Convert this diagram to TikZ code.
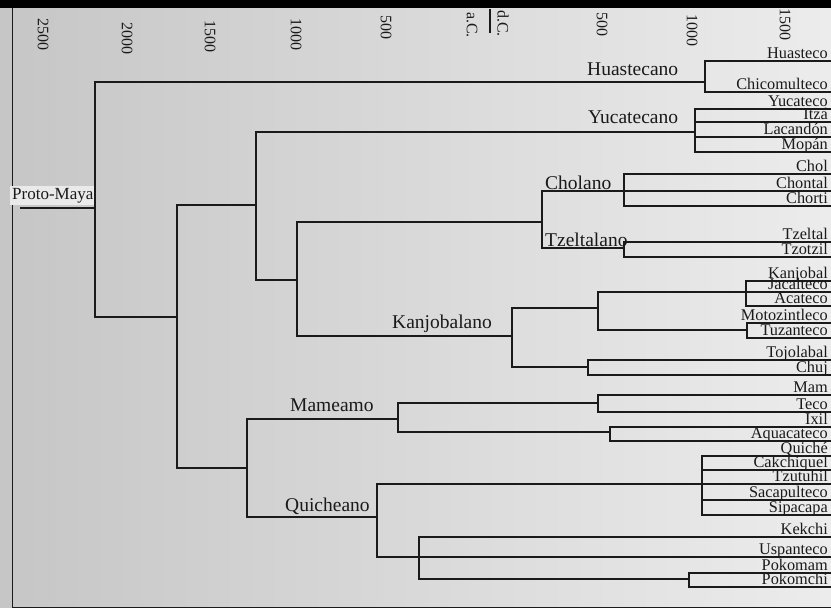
\documentclass[tikz,border=0pt]{standalone}
\usepackage{fontspec}
\setmainfont{Liberation Serif}
\definecolor{ink}{HTML}{1A1A1A}
\definecolor{paperleft}{HTML}{C6C6C6}
\definecolor{papermid}{HTML}{F7F7F7}
\definecolor{paperright}{HTML}{ECECEC}
\definecolor{labelbg}{HTML}{EAEAEA}
\begin{document}
\begin{tikzpicture}
	[x=1pt, y=-1pt,
	branch/.style={draw=ink, line width=1.4pt},
	leaf/.style={anchor=base east, inner sep=0pt, yshift=3pt, text=ink,
		font=\fontsize{16.3}{17}\selectfont},
	group/.style={anchor=base west, inner sep=0pt, text=ink,
		font=\fontsize{19.5}{20}\selectfont},
	axis/.style={rotate=-90, anchor=west, inner sep=0pt, text=ink,
		font=\fontsize{16}{16}\selectfont}]
	\useasboundingbox (0,0) rectangle (831,608);
	\shade[left color=paperleft, middle color=papermid, right color=paperright] (0,0) rectangle (831,608);
	\fill[black] (0,0) rectangle (831,8);
	\draw[ink, line width=1pt] (12,8) -- (12,607) -- (831,607);
	\foreach \x/\y/\t in {43/18/2500, 127/22/2000, 210/20/1500, 296/18/1000, 386/15/500,
		472/12/a.C., 503/10/d.C., 602/12/500, 692/14/1000, 785/8/1500}
		\node[axis] (tick\x) at (\x,\y) {\t};
	\draw[ink, line width=1.2pt] (490,9) -- (490,33);
	\node[anchor=base west, fill=labelbg, inner sep=2pt, text=ink,
		font=\fontsize{17}{17}\selectfont] (protomaya) at (10,199) {Proto-Maya};
	\coordinate (root) at (20,208);
	\coordinate (bmaya) at (95,208);
	\coordinate (bhuas) at (705,82);
	\coordinate (bcore) at (177,317);
	\coordinate (bwest) at (256,205);
	\coordinate (byuca) at (695,132);
	\coordinate (bck) at (297,280);
	\coordinate (btzch) at (542,222);
	\coordinate (bchol) at (624,191);
	\coordinate (btzel) at (624,248);
	\coordinate (bkanj) at (512,336);
	\coordinate (bkgrp) at (598,308);
	\coordinate (bkaja) at (746,292);
	\coordinate (bmoto) at (747,330);
	\coordinate (btojo) at (588,367);
	\coordinate (bsouth) at (247,468);
	\coordinate (bmame) at (398,419);
	\coordinate (bmate) at (598,403);
	\coordinate (bixaq) at (610,432);
	\coordinate (bquic) at (377,517);
	\coordinate (bquig) at (702,484);
	\coordinate (bkekg) at (419,557);
	\coordinate (bpokg) at (689,579);
	\foreach \n/\y/\t in {huasteco/61/Huasteco, chicomulteco/92/Chicomulteco,
		yucateco/109/Yucateco, itza/122/Itzá, lacandon/137/Lacandón, mopan/152/Mopán,
		chol/174/Chol, chontal/191/Chontal, chorti/206/Chorti,
		tzeltal/242/Tzeltal, tzotzil/257/Tzotzil,
		kanjobal/281/Kanjobal, jacalteco/292/Jacalteco, acateco/306/Acateco,
		motozintleco/323/Motozintleco, tuzanteco/338/Tuzanteco,
		tojolabal/360/Tojolabal, chuj/375/Chuj,
		mam/395/Mam, teco/412/Teco, ixil/427/Ixil, aquacateco/441/Aquacateco,
		quiche/456/Quiché, cakchiquel/470/Cakchiquel, tzutuhil/484/Tzutuhil,
		sacapulteco/500/Sacapulteco, sipacapa/515/Sipacapa,
		kekchi/537/Kekchi, uspanteco/557/Uspanteco, pokomam/573/Pokomam, pokomchi/587/Pokomchi}
	{
		\coordinate (\n) at (831,\y);
		\node[leaf] (l-\n) at (828,\y) {\t};
	}
	\draw[branch] (root) -- (bmaya);
	\foreach \a/\b in {bmaya/bhuas, bmaya/bcore, bhuas/huasteco, bhuas/chicomulteco,
		bcore/bwest, bcore/bsouth, bwest/byuca, bwest/bck,
		byuca/yucateco, byuca/itza, byuca/lacandon, byuca/mopan,
		bck/btzch, bck/bkanj, btzch/bchol, btzch/btzel,
		bchol/chol, bchol/chontal, bchol/chorti, btzel/tzeltal, btzel/tzotzil,
		bkanj/bkgrp, bkanj/btojo, bkgrp/bkaja, bkgrp/bmoto,
		bkaja/kanjobal, bkaja/jacalteco, bkaja/acateco,
		bmoto/motozintleco, bmoto/tuzanteco, btojo/tojolabal, btojo/chuj,
		bsouth/bmame, bsouth/bquic, bmame/bmate, bmame/bixaq,
		bmate/mam, bmate/teco, bixaq/ixil, bixaq/aquacateco,
		bquic/bquig, bquic/bkekg,
		bquig/quiche, bquig/cakchiquel, bquig/tzutuhil, bquig/sacapulteco, bquig/sipacapa,
		bkekg/kekchi, bkekg/uspanteco, bkekg/bpokg, bpokg/pokomam, bpokg/pokomchi}
		\draw[branch] (\a) |- (\b);
	\node[group] (huastecano) at (587,75) {Huastecano};
	\node[group] (yucatecano) at (588,123) {Yucatecano};
	\node[group] (cholano) at (545,189) {Cholano};
	\node[group] (tzeltalano) at (545,246) {Tzeltalano};
	\node[group] (kanjobalano) at (392,328) {Kanjobalano};
	\node[group] (mameamo) at (290,411) {Mameamo};
	\node[group] (quicheano) at (285,511) {Quicheano};
\end{tikzpicture}
\end{document}
